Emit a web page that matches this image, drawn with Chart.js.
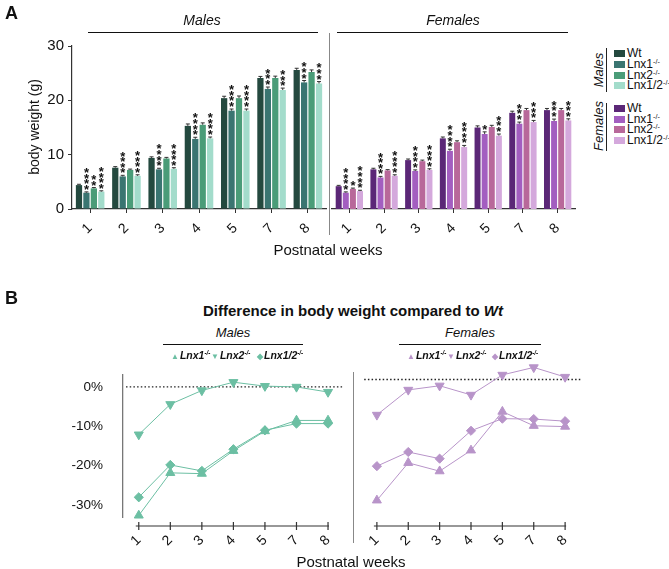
<!DOCTYPE html>
<html>
<head>
<meta charset="utf-8">
<script src="https://cdn.jsdelivr.net/npm/chart.js@4.4.1/dist/chart.umd.min.js"></script>
<style>
  body { margin: 0; background: #fff; font-family: "Liberation Sans", Arial, sans-serif; color: #111; }
  #fig { position: relative; width: 669px; height: 569px; overflow: hidden; }
  canvas { position: absolute; }
  .c { position: absolute; transform: translate(-50%, -50%); white-space: nowrap; line-height: 1; }
  .l { position: absolute; white-space: nowrap; line-height: 1; }
  .hl { position: absolute; height: 0; border-top: 1.3px solid #111; }
  .vl { position: absolute; width: 0; border-left: 1.2px solid #888; }
  .sw { position: absolute; width: 11px; height: 7px; }
  .leg { position: absolute; font-size: 12px; line-height: 1; transform: translateY(-50%); }
  sup { font-size: 0.6em; vertical-align: 0.5em; line-height: 0; }
  .lg { position: absolute; font-size: 10.5px; font-weight: bold; font-style: italic; line-height: 1; white-space: nowrap; transform: translateY(-50%); }
  .lg span.m { font-style: normal; font-size: 8px; margin-right: 1px; }
</style>
</head>
<body>
<div id="fig">
  <canvas id="maleBars" width="330" height="245" style="left:0;top:0"></canvas>
  <canvas id="femaleBars" width="250" height="245" style="left:330px;top:0"></canvas>
  <canvas id="maleDiff" width="350" height="205" style="left:0;top:355px"></canvas>
  <canvas id="femaleDiff" width="232" height="205" style="left:355px;top:355px"></canvas>

  <!-- panel A -->
  <div class="l" style="left:5px;top:4px;font-size:18px;font-weight:bold">A</div>
  <div class="c" style="left:202px;top:20px;font-size:14px;font-style:italic">Males</div>
  <div class="hl" style="left:88px;top:32px;width:230px"></div>
  <div class="c" style="left:453px;top:20px;font-size:14px;font-style:italic">Females</div>
  <div class="hl" style="left:337px;top:32px;width:231px"></div>
  <div class="vl" style="left:329px;top:33px;height:202px"></div>
  <div class="c" style="left:34px;top:127px;font-size:14px;transform:translate(-50%,-50%) rotate(-90deg)">body weight (g)</div>
  <div class="c" style="left:328px;top:249px;font-size:15px">Postnatal weeks</div>

  <div class="c" style="left:598px;top:70px;font-size:13px;font-style:italic;transform:translate(-50%,-50%) rotate(-90deg)">Males</div>
  <div class="vl" style="left:606px;top:48px;height:44px;border-color:#222"></div>
  <div class="c" style="left:598px;top:126px;font-size:13px;font-style:italic;transform:translate(-50%,-50%) rotate(-90deg)">Females</div>
  <div class="vl" style="left:606px;top:103px;height:48px;border-color:#222"></div>
  <div id="legendA"></div>

  <!-- panel B -->
  <div class="l" style="left:5px;top:289px;font-size:18px;font-weight:bold">B</div>
  <div class="c" style="left:353px;top:310px;font-size:15px;font-weight:bold">Difference in body weight compared to <i>Wt</i></div>
  <div class="c" style="left:233px;top:332px;font-size:13px;font-style:italic">Males</div>
  <div class="hl" style="left:163px;top:344px;width:140px"></div>
  <div class="c" style="left:470px;top:332px;font-size:13px;font-style:italic">Females</div>
  <div class="hl" style="left:399px;top:344px;width:142px"></div>
  <div class="vl" style="left:353px;top:372px;height:171px"></div>
  <div class="c" style="left:351px;top:561px;font-size:15px">Postnatal weeks</div>
  <div id="legendB"></div>
</div>

<script>
const FONT = '"Liberation Sans", Arial, sans-serif';
Chart.defaults.font.family = FONT;

const weeks = ['1', '2', '3', '4', '5', '7', '8'];
const genotypes = ['Wt', 'Lnx1', 'Lnx2', 'Lnx1/2'];
const weightTicks = [0, 10, 20, 30];
const diffTicks = [0, -10, -20, -30];

// body weight (g), panel A
const maleWt    = [4.4, 7.6, 9.4, 15.3, 20.4, 24.1, 25.6];
const maleLnx1  = [3.0, 6.0, 7.3, 12.9, 18.1, 22.1, 23.3];
const maleLnx2  = [3.8, 7.2, 9.3, 15.5, 20.4, 24.1, 25.2];
const maleLnx12 = [3.2, 6.1, 7.4, 13.0, 18.1, 21.9, 23.1];
const femaleWt    = [4.2, 7.3, 9.0, 13.0, 15.0, 17.7, 18.2];
const femaleLnx1  = [3.0, 5.8, 7.0, 10.7, 13.8, 15.7, 16.2];
const femaleLnx2  = [3.7, 7.1, 8.8, 12.3, 15.1, 18.2, 18.2];
const femaleLnx12 = [3.3, 6.1, 7.2, 11.4, 13.5, 16.0, 16.3];

// SEM
const maleWtSem    = [0.15, 0.2, 0.2, 0.35, 0.35, 0.3, 0.3];
const maleLnx1Sem  = [0.15, 0.2, 0.2, 0.3, 0.3, 0.35, 0.35];
const maleLnx2Sem  = [0.15, 0.15, 0.2, 0.35, 0.4, 0.35, 0.4];
const maleLnx12Sem = [0.15, 0.2, 0.2, 0.25, 0.3, 0.35, 0.35];
const femaleWtSem    = [0.15, 0.2, 0.2, 0.25, 0.3, 0.3, 0.3];
const femaleLnx1Sem  = [0.15, 0.2, 0.2, 0.3, 0.4, 0.3, 0.35];
const femaleLnx2Sem  = [0.15, 0.15, 0.2, 0.25, 0.3, 0.3, 0.3];
const femaleLnx12Sem = [0.15, 0.2, 0.2, 0.3, 0.3, 0.3, 0.3];

// number of significance stars
const noStars = [0, 0, 0, 0, 0, 0, 0];
const maleLnx1Stars  = [4, 4, 4, 4, 4, 3, 3];
const maleLnx2Stars  = [2, 0, 0, 0, 0, 0, 0];
const maleLnx12Stars = [4, 4, 4, 4, 4, 3, 3];
const femaleLnx1Stars  = [4, 4, 4, 4, 1, 3, 3];
const femaleLnx2Stars  = [1, 0, 0, 0, 0, 0, 0];
const femaleLnx12Stars = [4, 4, 4, 4, 3, 3, 3];

// % difference vs Wt, panel B
const maleDiffLnx1  = [-32.6, -21.8, -22.0, -16.2, -11.2, -8.5, -8.5];
const maleDiffLnx2  = [-12.1, -4.4, -0.9, 1.2, 0.2, 0.0, -1.3];
const maleDiffLnx12 = [-28.0, -19.8, -21.3, -15.8, -11.0, -9.3, -9.3];
const femaleDiffLnx1  = [-29.0, -20.0, -22.0, -17.0, -7.7, -11.1, -11.3];
const femaleDiffLnx2  = [-8.5, -2.5, -1.5, -3.7, 1.1, 2.9, 0.6];
const femaleDiffLnx12 = [-20.8, -17.4, -19.0, -12.3, -9.4, -9.5, -10.0];

const maleColors = ['#24493f', '#3a7571', '#4a9c78', '#a3dccb'];
const femaleColors = ['#5b2777', '#a35ec0', '#b8689a', '#d4a8dc'];
const maleLine = '#6cbfa3';
const femaleLine = '#b894c9';

// error caps and stars above bars
const barExtras = {
  id: 'barExtras',
  afterDatasetsDraw(chart) {
    const ctx = chart.ctx;
    const y = chart.scales.y;
    ctx.save();
    ctx.font = 'bold 13px ' + FONT;
    ctx.textAlign = 'center';
    ctx.textBaseline = 'alphabetic';
    const m = ctx.measureText('*');
    const mid = (m.actualBoundingBoxAscent - m.actualBoundingBoxDescent) / 2;
    chart.data.datasets.forEach((ds, di) => {
      chart.getDatasetMeta(di).data.forEach((bar, i) => {
        const top = y.getPixelForValue(ds.data[i] + ds.sem[i]);
        ctx.strokeStyle = '#333';
        ctx.lineWidth = 1;
        ctx.beginPath();
        ctx.moveTo(bar.x, bar.y);
        ctx.lineTo(bar.x, top);
        ctx.moveTo(bar.x - 2, top);
        ctx.lineTo(bar.x + 2, top);
        ctx.stroke();
        ctx.fillStyle = '#111';
        for (let k = 0; k < ds.stars[i]; k++) {
          const cy = top - 4.5 - k * 5.6;
          ctx.fillText('*', bar.x, cy + mid);
        }
      });
    });
    ctx.restore();
  }
};

function barChart(id, series, sems, stars, colors, showY, pad) {
  new Chart(document.getElementById(id), {
    type: 'bar',
    data: {
      labels: weeks,
      datasets: series.map((d, i) => ({
        label: genotypes[i], data: d, sem: sems[i], stars: stars[i],
        backgroundColor: colors[i], categoryPercentage: 0.82, barPercentage: 0.84
      }))
    },
    options: {
      responsive: false,
      animation: false,
      layout: { padding: pad },
      plugins: { legend: { display: false }, tooltip: { enabled: false } },
      scales: {
        x: {
          grid: { drawOnChartArea: false, offset: false, tickLength: 4, color: '#333' },
          border: { color: '#333', width: 1.2 },
          ticks: { color: '#111', font: { size: 14 }, minRotation: 45, maxRotation: 45, padding: 7 },
          afterFit: s => { s.height = 36; }
        },
        y: {
          display: showY, min: 0, max: 30,
          afterBuildTicks: s => { s.ticks = weightTicks.map(v => ({ value: v })); },
          grid: { drawOnChartArea: false, tickLength: 4, color: '#333' },
          border: { color: '#333', width: 1.2 },
          ticks: { color: '#111', font: { size: 15 }, padding: 4 },
          afterFit: s => { s.width = showY ? 72 : 0; }
        }
      }
    },
    plugins: [barExtras]
  });
}

// dotted zero line and detached x axis
const lineExtras = {
  id: 'lineExtras',
  beforeDatasetsDraw(chart) {
    const { ctx, chartArea: a, scales: { x, y } } = chart;
    ctx.save();
    ctx.strokeStyle = '#222';
    ctx.lineWidth = 1.3;
    ctx.setLineDash([1.5, 2.2]);
    const y0 = y.getPixelForValue(0);
    ctx.beginPath();
    ctx.moveTo(a.left + 3, y0);
    ctx.lineTo(a.right, y0);
    ctx.stroke();
    ctx.setLineDash([]);
    const ya = a.bottom + 9;
    const x1 = x.getPixelForValue(0);
    const x2 = x.getPixelForValue(weeks.length - 1);
    ctx.strokeStyle = '#333';
    ctx.lineWidth = 1.2;
    ctx.beginPath();
    ctx.moveTo(x1 - 3, ya);
    ctx.lineTo(x2 + 1, ya);
    weeks.forEach((w, i) => {
      const px = x.getPixelForValue(i);
      ctx.moveTo(px, ya - 4);
      ctx.lineTo(px, ya + 4);
    });
    ctx.stroke();
    ctx.restore();
  }
};

function diffChart(id, series, color, showY, pad) {
  const styles = ['triangle', 'triangle', 'rectRot'];
  const rot = [0, 180, 0];
  const rad = [5.2, 5.2, 4.6];
  new Chart(document.getElementById(id), {
    type: 'line',
    data: {
      labels: weeks,
      datasets: series.map((d, i) => ({
        label: genotypes[i + 1], data: d,
        borderColor: color, backgroundColor: color, borderWidth: 1,
        pointStyle: styles[i], pointRotation: rot[i], pointRadius: rad[i],
        pointBorderWidth: 1, clip: false
      }))
    },
    options: {
      responsive: false,
      animation: false,
      layout: { padding: pad },
      plugins: { legend: { display: false }, tooltip: { enabled: false } },
      scales: {
        x: {
          offset: true,
          grid: { display: false },
          border: { display: false },
          ticks: { color: '#111', font: { size: 14 }, minRotation: 45, maxRotation: 45, padding: 7 },
          afterFit: s => { s.height = 43; }
        },
        y: {
          display: showY, min: -33, max: 3,
          afterBuildTicks: s => { s.ticks = diffTicks.map(v => ({ value: v })); },
          grid: { display: false },
          border: { color: '#777', width: 1.3 },
          ticks: { color: '#111', font: { size: 13.5 }, padding: 12, callback: v => v + '%' },
          afterFit: s => { s.width = showY ? 123 : 0; }
        }
      }
    },
    plugins: [lineExtras]
  });
}

barChart('maleBars', [maleWt, maleLnx1, maleLnx2, maleLnx12],
  [maleWtSem, maleLnx1Sem, maleLnx2Sem, maleLnx12Sem],
  [noStars, maleLnx1Stars, maleLnx2Stars, maleLnx12Stars],
  maleColors, true, { top: 46, left: 0, right: 4, bottom: 0 });
barChart('femaleBars', [femaleWt, femaleLnx1, femaleLnx2, femaleLnx12],
  [femaleWtSem, femaleLnx1Sem, femaleLnx2Sem, femaleLnx12Sem],
  [noStars, femaleLnx1Stars, femaleLnx2Stars, femaleLnx12Stars],
  femaleColors, false, { top: 46, left: 2, right: 5, bottom: 0 });
diffChart('maleDiff', [maleDiffLnx1, maleDiffLnx2, maleDiffLnx12], maleLine, true,
  { top: 12, left: 0, right: 4, bottom: 0 });
diffChart('femaleDiff', [femaleDiffLnx1, femaleDiffLnx2, femaleDiffLnx12], femaleLine, false,
  { top: 12, left: 5, right: 4, bottom: 0 });

// legend A
const legA = document.getElementById('legendA');
const rowsMale = [53, 64, 75, 85];
const rowsFemale = [108, 119, 129, 140];
function addLegendRows(rows, colors) {
  rows.forEach((cy, i) => {
    const sw = document.createElement('div');
    sw.className = 'sw';
    sw.style.left = '614px';
    sw.style.top = (cy - 3.5) + 'px';
    sw.style.background = colors[i];
    legA.appendChild(sw);
    const t = document.createElement('div');
    t.className = 'leg';
    t.style.left = '627px';
    t.style.top = cy + 'px';
    t.innerHTML = genotypes[i] + (i > 0 ? '<sup>-/-</sup>' : '');
    legA.appendChild(t);
  });
}
addLegendRows(rowsMale, maleColors);
addLegendRows(rowsFemale, femaleColors);

// legend B
const legB = document.getElementById('legendB');
const marks = ['\u25B2', '\u25BC', '\u25C6'];
function addLineLegend(xs, color) {
  xs.forEach((x, i) => {
    const t = document.createElement('div');
    t.className = 'lg';
    t.style.left = x + 'px';
    t.style.top = '355px';
    t.innerHTML = '<span class="m" style="color:' + color + '">' + marks[i] + '</span>' +
      genotypes[i + 1] + '<sup>-/-</sup>';
    legB.appendChild(t);
  });
}
addLineLegend([171, 211, 257], maleLine);
addLineLegend([407, 447, 492], femaleLine);
</script>
</body>
</html>
